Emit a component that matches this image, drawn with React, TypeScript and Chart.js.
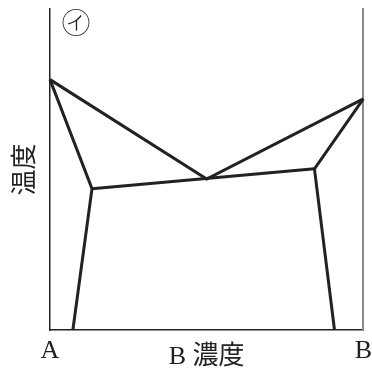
import React, { useEffect, useRef } from "react";
import { Chart, registerables } from "chart.js";

Chart.register(...registerables);

// Tick labels / titles
const xTickValues = [0, 100];
const xTickLabels = ["A", "B"];
const xTitle = "B 濃度";
const yTitle = "温度";
const panelMark = "㋑";

// Liquidus (A peak -> eutectic -> B peak)
const liquidusX = [0, 50, 100];
const liquidusY = [78, 47, 72];
// Left solidus + solvus
const leftSolidusX = [0, 13.4, 7.3];
const leftSolidusY = [78, 44, 0];
// Right solidus + solvus
const rightSolidusX = [100, 84.4, 90.8];
const rightSolidusY = [72, 50.2, 0];
// Eutectic line
const eutecticX = [13.4, 84.4];
const eutecticY = [44, 50.2];

const toPts = (xs: number[], ys: number[]) => xs.map((x, i) => ({ x, y: ys[i] }));

const LINE = "#222222";
const SERIF = "'Liberation Serif', 'Noto Sans CJK JP', serif";
const CJK = "'Noto Sans CJK JP', sans-serif";

const markPlugin = {
  id: "panelMark",
  afterDraw(chart: any) {
    const { ctx, chartArea } = chart;
    ctx.save();
    ctx.font = `300 29px ${CJK}`;
    ctx.fillStyle = LINE;
    ctx.textAlign = "center";
    ctx.textBaseline = "middle";
    ctx.fillText(panelMark, chartArea.left + 26, chartArea.top + 14);
    ctx.restore();
  },
};

export default function App() {
  const ref = useRef<HTMLCanvasElement | null>(null);

  useEffect(() => {
    if (!ref.current) return;
    const mk = (xs: number[], ys: number[]) => ({
      data: toPts(xs, ys),
      borderColor: LINE,
      borderWidth: 3,
      pointRadius: 0,
      tension: 0,
      borderJoinStyle: "miter" as const,
      fill: false,
      clip: false as any,
    });
    const chart = new Chart(ref.current, {
      type: "line",
      data: {
        datasets: [
          mk(liquidusX, liquidusY),
          mk(leftSolidusX, leftSolidusY),
          mk(rightSolidusX, rightSolidusY),
          mk(eutecticX, eutecticY),
        ],
      },
      options: {
        animation: false,
        responsive: false,
        layout: { padding: { top: 9, left: 0, right: 0, bottom: 0 } },
        plugins: { legend: { display: false }, tooltip: { enabled: false } },
        scales: {
          x: {
            type: "linear",
            min: 0,
            max: 100,
            position: "bottom",
            grid: { display: false, drawTicks: false },
            border: { display: true, color: LINE, width: 1.5 },
            afterBuildTicks: (s: any) => {
              s.ticks = xTickValues.map((v) => ({ value: v }));
            },
            afterFit: (s: any) => {
              s.height = 44;
            },
            ticks: {
              autoSkip: false,
              maxRotation: 0,
              padding: 0,
              color: LINE,
              font: { family: SERIF, size: 26, lineHeight: 1.66 },
              callback: (v: any) => {
                const i = xTickValues.indexOf(Number(v));
                return i >= 0 ? xTickLabels[i] : "";
              },
            },
            title: {
              display: true,
              text: xTitle,
              color: LINE,
              font: { family: SERIF, size: 26 },
              padding: { top: 0, bottom: 1 },
            },
          },
          y: {
            type: "linear",
            min: 0,
            max: 100,
            position: "left",
            grid: { display: false, drawTicks: false },
            border: { display: true, color: LINE, width: 1.5 },
            ticks: { display: false },
            afterFit: (s: any) => {
              s.width = 50;
            },
            title: {
              display: true,
              text: yTitle,
              color: LINE,
              font: { family: CJK, size: 26 },
              padding: { top: 8, bottom: 0 },
            },
          },
          y2: {
            type: "linear",
            min: 0,
            max: 100,
            position: "right",
            grid: { display: false, drawTicks: false },
            border: { display: true, color: "#8a8a8a", width: 2 },
            ticks: { display: false },
            afterFit: (s: any) => {
              s.width = 0;
            },
          },
        },
      },
      plugins: [markPlugin],
    });
    return () => chart.destroy();
  }, []);

  return (
    <div style={{ position: "fixed", left: 0, top: 0, width: 372, height: 374, background: "#fff" }}>
      <canvas ref={ref} width={372} height={374} style={{ width: 372, height: 374 }} />
    </div>
  );
}
